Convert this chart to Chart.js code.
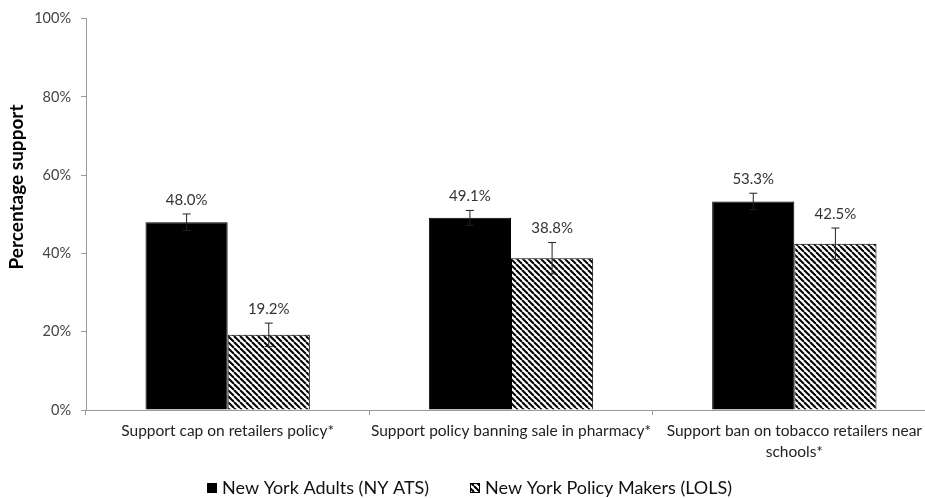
<!DOCTYPE html>
<html>
<head>
<meta charset="utf-8">
<script src="https://cdn.jsdelivr.net/npm/chart.js@4"></script>
<style>
html,body{margin:0;padding:0;background:#fff;overflow:hidden;}
#wrap{width:940px;height:498px;position:relative;}
</style>
</head>
<body>
<div id="wrap"><canvas id="c"></canvas></div>
<script>
const categories = [
  "Support cap on retailers policy*",
  "Support policy banning sale in pharmacy*",
  ["Support ban on tobacco retailers near", "schools*"]
];
const seriesNames = ["New York Adults (NY ATS)", "New York Policy Makers (LOLS)"];
const adults = [48.0, 49.1, 53.3];
const policyMakers = [19.2, 38.8, 42.5];
const adultsErr = [2.1, 1.9, 2.1];
const policyMakersErr = [3.0, 4.0, 4.0];
const yTicks = [0, 20, 40, 60, 80, 100];
const yTitle = "Percentage support";

const FONT = 'Lato, "Open Sans", sans-serif';

function makeHatch() {
  const s = 6;
  const c = document.createElement('canvas');
  c.width = s; c.height = s;
  const x = c.getContext('2d');
  x.fillStyle = '#fff';
  x.fillRect(0, 0, s, s);
  x.strokeStyle = '#000';
  x.lineWidth = 2;
  for (const k of [-s, 0, s]) {
    x.beginPath();
    x.moveTo(k, 0);
    x.lineTo(k + s, s);
    x.stroke();
  }
  return document.getElementById('c').getContext('2d').createPattern(c, 'repeat');
}
const hatch = makeHatch();

const errs = [adultsErr, policyMakersErr];

const extrasPlugin = {
  id: 'extras',
  afterDatasetsDraw(chart) {
    const ctx = chart.ctx;
    const y = chart.scales.y;
    ctx.save();
    chart.data.datasets.forEach((ds, di) => {
      const meta = chart.getDatasetMeta(di);
      meta.data.forEach((bar, i) => {
        const v = ds.data[i];
        const e = errs[di][i];
        const yt = y.getPixelForValue(v + e);
        const yb = y.getPixelForValue(v - e);
        const x = bar.x;
        ctx.strokeStyle = '#222';
        ctx.lineWidth = 1;
        ctx.beginPath();
        ctx.moveTo(x, yt); ctx.lineTo(x, yb);
        ctx.moveTo(x - 4, yt); ctx.lineTo(x + 4, yt);
        ctx.moveTo(x - 4, yb); ctx.lineTo(x + 4, yb);
        ctx.stroke();
        ctx.fillStyle = '#333';
        ctx.font = '15px ' + FONT;
        ctx.textAlign = 'center';
        ctx.textBaseline = 'middle';
        ctx.fillText(v.toFixed(1) + '%', x, yt - 14);
      });
    });
    // y-axis title
    ctx.save();
    ctx.translate(17, 187);
    ctx.rotate(-Math.PI / 2);
    ctx.font = 'bold 19px ' + FONT;
    ctx.fillStyle = '#000';
    ctx.textAlign = 'center';
    ctx.textBaseline = 'middle';
    ctx.fillText(yTitle, 0, 0);
    ctx.restore();
    // legend
    const items = [
      {text: seriesNames[0], fill: '#000', x: 207},
      {text: seriesNames[1], fill: hatch, x: 470}
    ];
    const ly = 488;
    ctx.font = '18px ' + FONT;
    ctx.textAlign = 'left';
    ctx.textBaseline = 'middle';
    items.forEach(it => {
      ctx.fillStyle = it.fill;
      ctx.fillRect(it.x, ly - 5, 10, 10);
      ctx.strokeStyle = '#000';
      ctx.lineWidth = 1;
      ctx.strokeRect(it.x + 0.5, ly - 4.5, 9, 9);
      ctx.fillStyle = '#111';
      ctx.fillText(it.text, it.x + 15, ly);
    });
    ctx.restore();
  }
};

new Chart(document.getElementById('c'), {
  type: 'bar',
  data: {
    labels: categories,
    datasets: [
      {label: seriesNames[0], data: adults, backgroundColor: '#000', borderColor: '#000', borderWidth: 1},
      {label: seriesNames[1], data: policyMakers, backgroundColor: hatch, borderColor: '#000', borderWidth: 1}
    ]
  },
  options: {
    responsive: true,
    maintainAspectRatio: false,
    animation: false,
    datasets: {bar: {categoryPercentage: 0.58, barPercentage: 1.0}},
    layout: {padding: {top: 18, right: 4, left: 0, bottom: 0}},
    plugins: {legend: {display: false}, tooltip: {enabled: false}},
    scales: {
      x: {
        grid: {display: true, drawOnChartArea: false, drawTicks: true, tickLength: 5, color: '#9a9a9a', offset: true},
        border: {display: true, color: '#9a9a9a'},
        ticks: {
          autoSkip: false, maxRotation: 0, minRotation: 0, padding: 6,
          color: '#222',
          font: {family: FONT, size: 15.5, lineHeight: 1.35}
        },
        afterFit(scale) { scale.height = 88; }
      },
      y: {
        min: 0, max: 100,
        afterBuildTicks(scale) { scale.ticks = yTicks.map(v => ({value: v})); },
        grid: {display: true, drawOnChartArea: false, drawTicks: true, tickLength: 5, color: '#9a9a9a'},
        border: {display: true, color: '#9a9a9a'},
        ticks: {
          padding: 10,
          color: '#444',
          font: {family: FONT, size: 14.5},
          callback: v => v + '%'
        },
        afterFit(scale) { scale.width = 86; }
      }
    }
  },
  plugins: [extrasPlugin]
});
</script>
</body>
</html>
